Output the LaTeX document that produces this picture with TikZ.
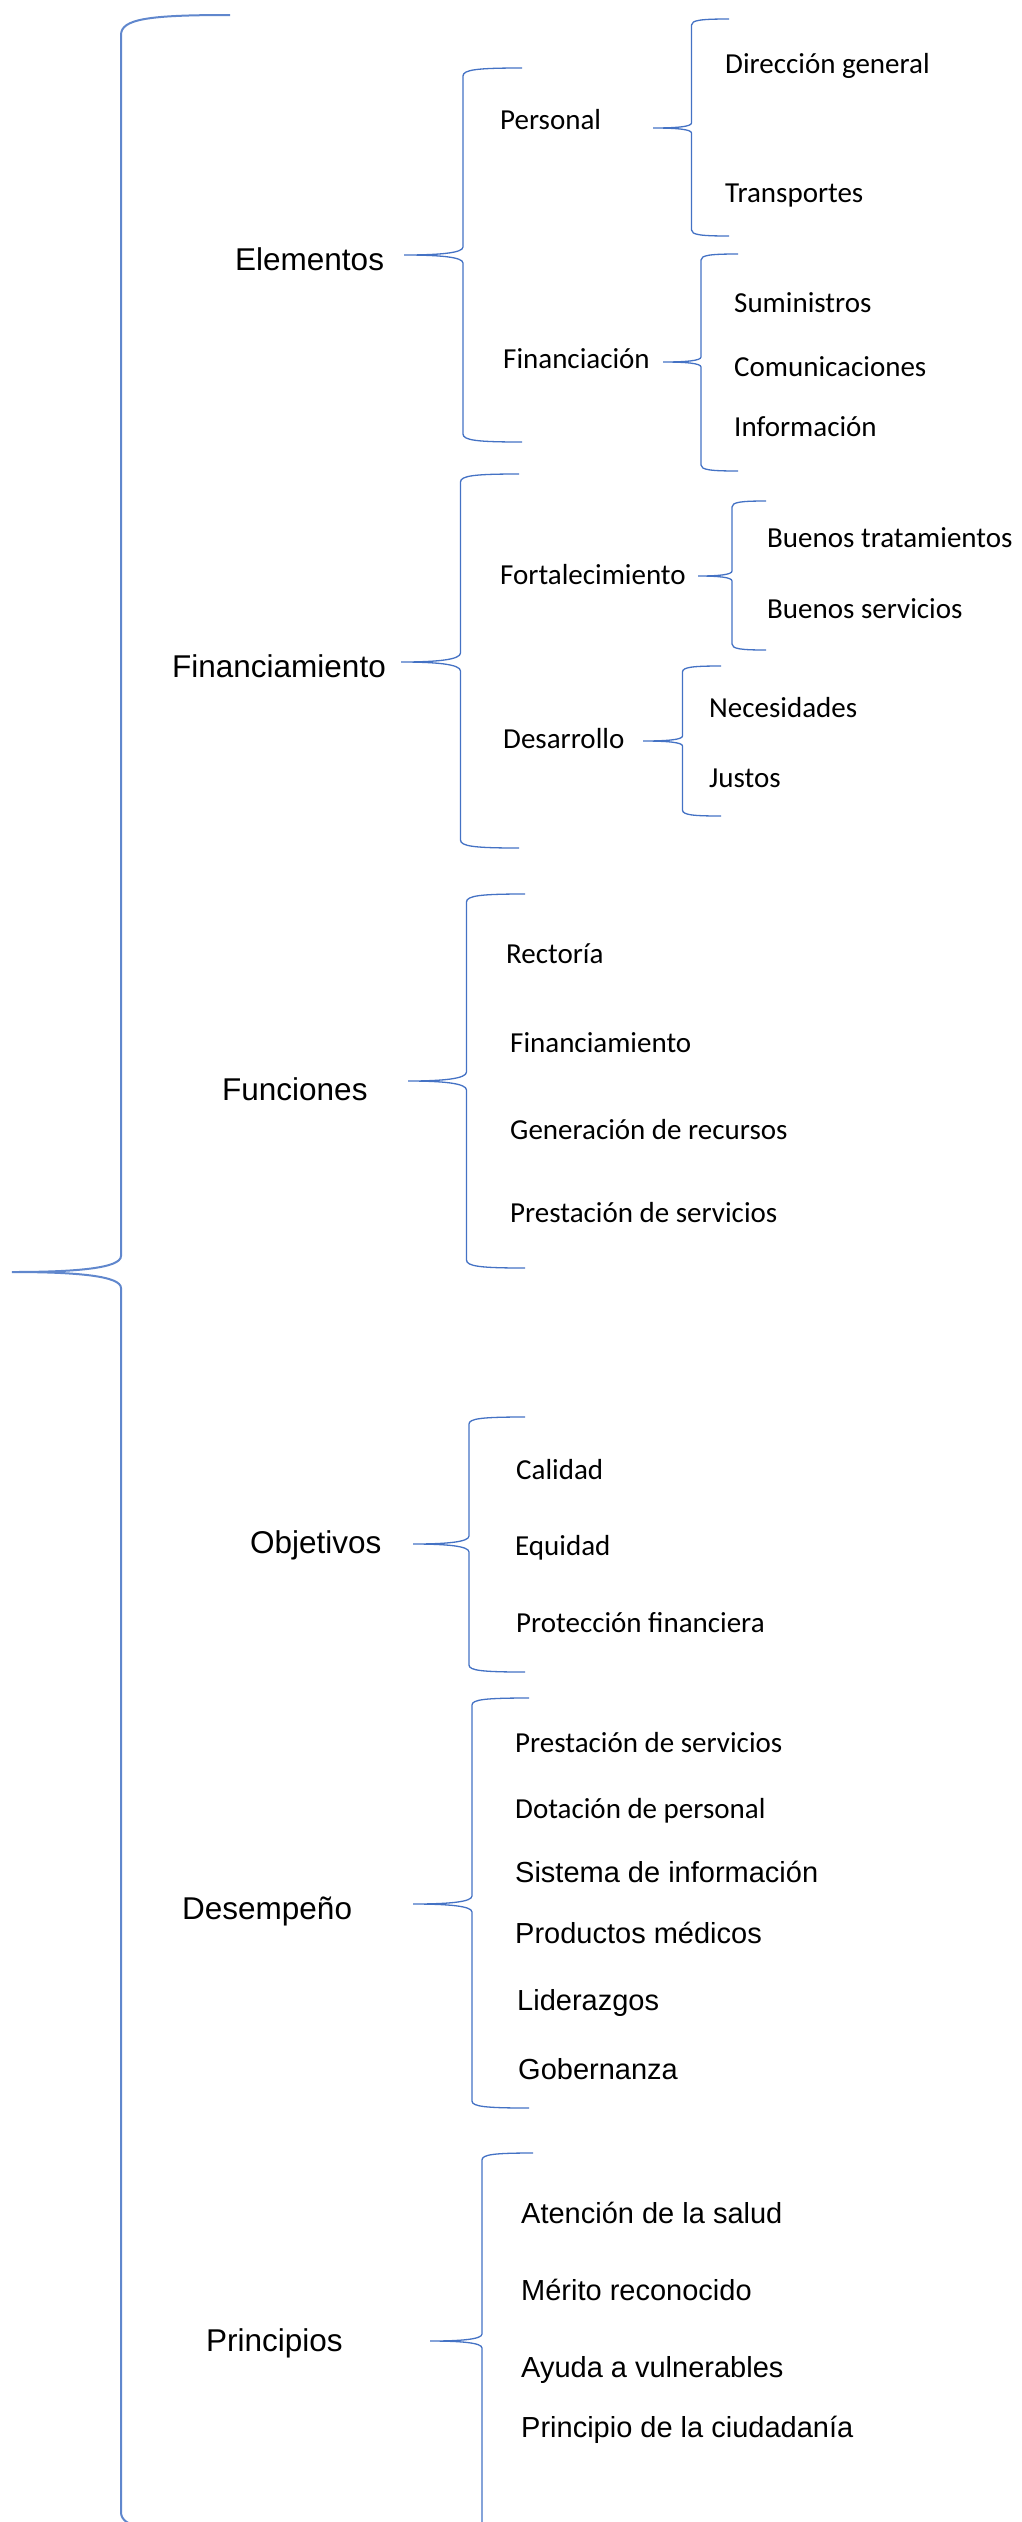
\documentclass[tikz,border=0pt]{standalone}
\usepackage{fontspec}
\newfontfamily\calib{Carlito}
\newfontfamily\arialf{Liberation Sans}
\definecolor{bracecol}{HTML}{4472C4}
\tikzset{
  brc/.style={draw=bracecol, line width=1.3pt},
  bigbrc/.style={draw=bracecol!85, line width=2pt},
  hdr/.style={font=\arialf\fontsize{31.5}{36}\selectfont, anchor=base west, inner sep=0pt},
  cal/.style={font=\calib\fontsize{29}{34}\selectfont, anchor=base west, inner sep=0pt},
  ari/.style={font=\arialf\fontsize{29}{34}\selectfont, anchor=base west, inner sep=0pt},
}
% xv ytop ymid ybot xend xtip a g style
\newcommand{\mybrace}[9]{%
  \draw[#9] (#5,#2) .. controls ({#1+0.25*(#5-#1)},#2) and (#1,{#2+0.2*#7}) .. (#1,{#2+#7})
   -- (#1,{#3-#8}) .. controls (#1,{#3-0.25*#8}) and ({#1-0.4*(#1-#6)},#3) .. (#6,#3)
   .. controls ({#1-0.4*(#1-#6)},#3) and (#1,{#3+0.25*#8}) .. (#1,{#3+#8})
   -- (#1,{#4-#7}) .. controls (#1,{#4-0.2*#7}) and ({#1+0.25*(#5-#1)},#4) .. (#5,#4);}
\begin{document}
\begin{tikzpicture}[x=1pt,y=-1pt]
\useasboundingbox (0,0) rectangle (1021,2522);
\clip (0,0) rectangle (1021,2522);
% big brace
\coordinate (root) at (12,1272);
\mybrace{121}{15}{1272}{2532}{230}{12}{20}{16}{bigbrc}

% ---------- Elementos ----------
\node[hdr] (elem) at (235,270) {Elementos};
\mybrace{463}{68}{255}{442}{522}{404}{8}{8}{brc}
\node[cal] (pers) at (500,129) {Personal};
\mybrace{691.5}{19}{128}{236}{729}{653}{6}{5}{brc}
\node[cal] (dirg) at (725,73) {Dirección general};
\node[cal] (trans) at (725,202) {Transportes};
\node[cal] (finc) at (503,368) {Financiación};
\mybrace{701}{254}{362}{471}{738}{663}{6}{5}{brc}
\node[cal] (sumi) at (734,312) {Suministros};
\node[cal] (comu) at (734,376) {Comunicaciones};
\node[cal] (info) at (734,436) {Información};

% ---------- Financiamiento ----------
\node[hdr] (finan) at (172,677) {Financiamiento};
\mybrace{460.5}{474}{662}{848}{519}{401}{8}{9}{brc}
\node[cal] (fort) at (500,584) {Fortalecimiento};
\mybrace{732}{501}{576}{650}{766}{698}{6}{5}{brc}
\node[cal] (bt) at (767,547) {Buenos tratamientos};
\node[cal] (bs) at (767,618) {Buenos servicios};
\node[cal] (desa) at (503,748) {Desarrollo};
\mybrace{682.5}{666}{741}{816}{721}{643}{6}{5}{brc}
\node[cal] (nece) at (709,717) {Necesidades};
\node[cal] (just) at (709,787) {Justos};

% ---------- Funciones ----------
\node[hdr] (func) at (222,1100) {Funciones};
\mybrace{466.5}{894}{1081}{1268}{525}{408}{8}{9}{brc}
\node[cal] (rect) at (506,963) {Rectoría};
\node[cal] (fina2) at (510,1052) {Financiamiento};
\node[cal] (gene) at (510,1139) {Generación de recursos};
\node[cal] (pres) at (510,1222) {Prestación de servicios};

% ---------- Objetivos ----------
\node[hdr] (obje) at (250,1553) {Objetivos};
\mybrace{469}{1417}{1544}{1672}{525}{413}{7}{8}{brc}
\node[cal] (cali) at (516,1479) {Calidad};
\node[cal] (equi) at (515,1555) {Equidad};
\node[cal] (prot) at (516,1632) {Protección financiera};

% ---------- Desempeño ----------
\node[hdr] (dese) at (182,1919) {Desempeño};
\mybrace{472}{1698}{1904}{2108}{529}{413}{7}{8}{brc}
\node[cal] (pres2) at (515,1752) {Prestación de servicios};
\node[cal] (dota) at (515,1818) {Dotación de personal};
\node[ari] (sist) at (515,1882) {Sistema de información};
\node[ari] (prod) at (515,1943) {Productos médicos};
\node[ari] (lide) at (517,2010) {Liderazgos};
\node[ari] (gobe) at (518,2079) {Gobernanza};

% ---------- Principios ----------
\node[hdr] (prin) at (206,2351) {Principios};
\mybrace{482}{2153}{2341}{2620}{533}{430}{7}{7}{brc}
\node[ari] (aten) at (521,2223) {Atención de la salud};
\node[ari] (meri) at (521,2300) {Mérito reconocido};
\node[ari] (ayud) at (521,2377) {Ayuda a vulnerables};
\node[ari] (ciud) at (521,2437) {Principio de la ciudadanía};
\end{tikzpicture}
\end{document}
